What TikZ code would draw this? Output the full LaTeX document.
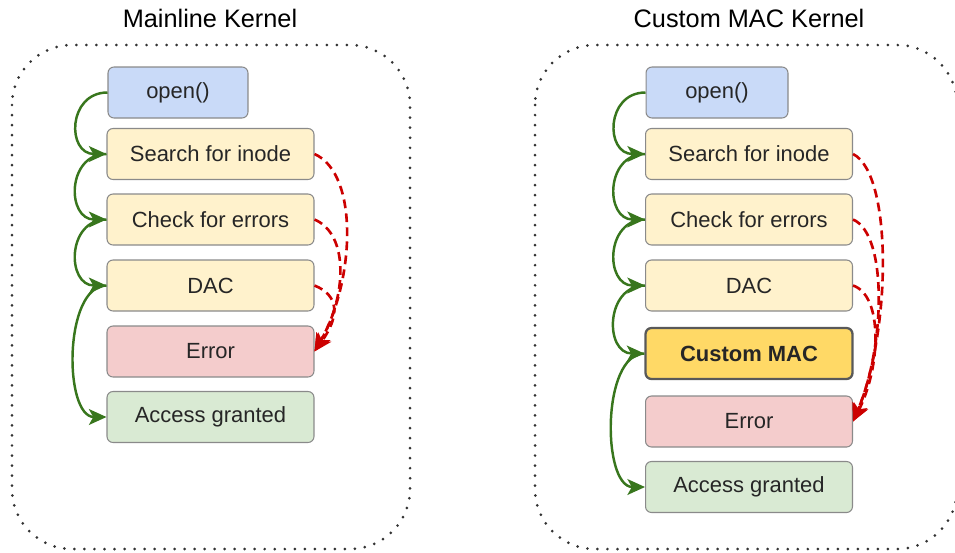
\documentclass[tikz,border=0pt]{standalone}
\usepackage{fontspec}
\setmainfont{Liberation Sans}
\usetikzlibrary{arrows.meta}
\definecolor{openblue}{HTML}{C9DAF8}
\definecolor{stepyellow}{HTML}{FFF2CC}
\definecolor{macyellow}{HTML}{FFD966}
\definecolor{errred}{HTML}{F4CCCC}
\definecolor{okgreen}{HTML}{D9EAD3}
\definecolor{boxgray}{HTML}{8A8A8A}
\definecolor{flowgreen}{HTML}{38761D}
\definecolor{failred}{HTML}{CC0000}

\begin{document}
\begin{tikzpicture}[x=0.02cm, y=0.02cm]
		\tikzstyle{stage}=[draw=boxgray, line width=0.6pt, rounded corners=3.4pt, minimum width=4.14cm, minimum height=1.02cm, font=\fontsize{12.5}{15}\selectfont, text=black!85]
		\tikzstyle{kernel}=[line width=1.7pt, dash pattern=on 0pt off 5.7pt, line cap=round, rounded corners=1.2cm, black!80]
		\tikzstyle{pass}=[flowgreen, line width=1.4pt, -{Stealth[length=10pt,width=9pt,inset=2.5pt]}]
		\tikzstyle{fail}=[failred, line width=1.5pt, dash pattern=on 5pt off 3pt, -{Stealth[length=10pt,width=9pt,inset=2.5pt]}]
		\useasboundingbox (0,0) rectangle (955,-552);
		% mainline kernel
		\node[font=\fontsize{14.4}{17}\selectfont] (ltitle) at (210,-18) {Mainline Kernel};
		\draw [kernel] (12,-45) rectangle (410,-549);
		\node[stage, fill=openblue, minimum width=2.8cm] (lopen) at (178,-92.5) {open()};
		\node[stage, fill=stepyellow] (lsearch) at (210.5,-154) {Search for inode};
		\node[stage, fill=stepyellow] (lcheck) at (210.5,-219.5) {Check for errors};
		\node[stage, fill=stepyellow] (ldac) at (210.5,-285.5) {DAC};
		\node[stage, fill=errred] (lerror) at (210.5,-351.5) {Error};
		\node[stage, fill=okgreen] (lgrant) at (210.5,-417) {Access granted};
		\draw [pass] (lopen.west) .. controls +(-40,0) and +(-40,0) .. (lsearch.west);
		\draw [pass] (lsearch.west) .. controls +(-40,0) and +(-40,0) .. (lcheck.west);
		\draw [pass] (lcheck.west) .. controls +(-40,0) and +(-40,0) .. (ldac.west);
		\draw [pass] (ldac.west) .. controls +(-43,0) and +(-43,0) .. (lgrant.west);
		\draw [fail] (lsearch.east) .. controls +(45,-20) and +(40,70) .. (lerror.east);
		\draw [fail] (lcheck.east) .. controls +(35,-15) and +(32,55) .. (lerror.east);
		\draw [fail] (ldac.east) .. controls +(25,-10) and +(25,35) .. (lerror.east);
		% custom MAC kernel
		\node[font=\fontsize{14.4}{17}\selectfont] (rtitle) at (749,-18) {Custom MAC Kernel};
		\draw [kernel] (535,-45) rectangle (957,-549);
		\node[stage, fill=openblue, minimum width=2.84cm] (ropen) at (717,-92.5) {open()};
		\node[stage, fill=stepyellow] (rsearch) at (749,-154) {Search for inode};
		\node[stage, fill=stepyellow] (rcheck) at (749,-219.5) {Check for errors};
		\node[stage, fill=stepyellow] (rdac) at (749,-285.5) {DAC};
		\node[stage, fill=macyellow, draw=black!65, line width=1.3pt, font=\fontsize{12.5}{15}\selectfont\bfseries] (rmac) at (749,-353.5) {Custom MAC};
		\node[stage, fill=errred] (rerror) at (749,-421.5) {Error};
		\node[stage, fill=okgreen] (rgrant) at (749,-487) {Access granted};
		\draw [pass] (ropen.west) .. controls +(-40,0) and +(-40,0) .. (rsearch.west);
		\draw [pass] (rsearch.west) .. controls +(-40,0) and +(-40,0) .. (rcheck.west);
		\draw [pass] (rcheck.west) .. controls +(-40,0) and +(-40,0) .. (rdac.west);
		\draw [pass] (rdac.west) .. controls +(-40,0) and +(-40,0) .. (rmac.west);
		\draw [pass] (rmac.west) .. controls +(-43,0) and +(-43,0) .. (rgrant.west);
		\draw [fail] (rsearch.east) .. controls +(40,-20) and +(38,90) .. (rerror.east);
		\draw [fail] (rcheck.east) .. controls +(35,-15) and +(32,75) .. (rerror.east);
		\draw [fail] (rdac.east) .. controls +(30,-10) and +(28,55) .. (rerror.east);
\end{tikzpicture}
\end{document}
